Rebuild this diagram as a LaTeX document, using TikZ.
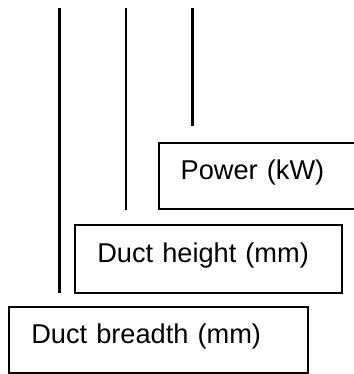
\documentclass[tikz,border=0pt]{standalone}
\usepackage{fontspec}
\setmainfont{Liberation Sans}
\begin{document}
\begin{tikzpicture}[x=1pt,y=-1pt,
    field/.style ={rectangle, draw, line width=2pt, outer sep=0pt, anchor=north west, align=left,
      inner xsep=22pt, text height=16pt, text depth=9pt, font=\fontsize{27.2}{31}\selectfont},
    rule/.style ={line width=2.4pt}]
   \useasboundingbox (0,0) rectangle (353,374);
   \node[field, text width=154pt, minimum height=66.6pt] (power)  at (158.7,142.7)  {Power (kW)};
   \node[field, text width=222.4pt, minimum height=67.7pt] (height)  at (75.3,225)  {Duct height (mm)};
   \node[field, text width=255pt, minimum height=65.7pt] (breadth)  at (9.3,307.3)  {Duct breadth (mm)};
   \coordinate (power top) at (192.3,8);
   \coordinate (power end) at (192.3,126);
   \coordinate (height top) at (126,8);
   \coordinate (height end) at (126,210);
   \coordinate (breadth top) at (59.3,8);
   \coordinate (breadth end) at (59.3,293);
   \draw[rule] (power top) -- (power end);
   \draw[rule] (height top) -- (height end);
   \draw[rule] (breadth top) -- (breadth end);
 \end{tikzpicture}
\end{document}
